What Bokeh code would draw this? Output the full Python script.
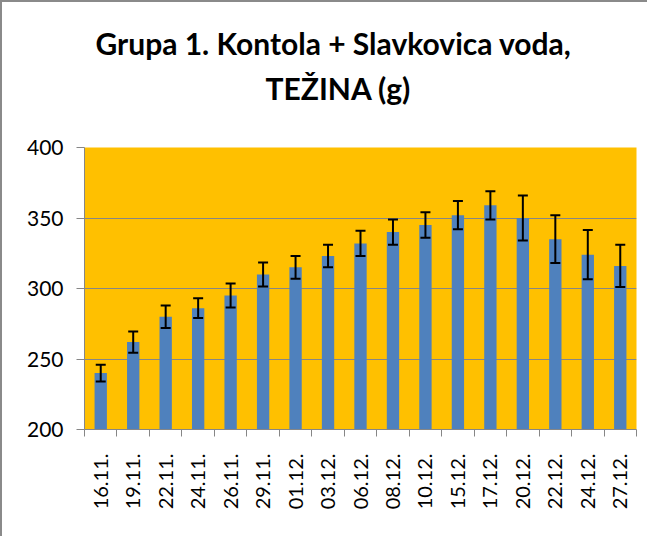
import math
from bokeh.plotting import figure
from bokeh.models import ColumnDataSource, Whisker, TeeHead, FixedTicker, Title, Range1d
from bokeh.embed import file_html
from bokeh.resources import INLINE

categories = ["16.11.", "19.11.", "22.11.", "24.11.", "26.11.", "29.11.", "01.12.", "03.12.",
              "06.12.", "08.12.", "10.12.", "15.12.", "17.12.", "20.12.", "22.12.", "24.12.", "27.12."]
weights = [240, 262, 280, 286, 295, 310, 315, 323, 332, 340, 345, 352, 359, 350, 335, 324, 316]
errors = [6, 7.5, 8, 7, 8.5, 8.5, 8, 8, 9, 9, 9, 10, 10, 16, 17, 17.5, 15]
y_ticks = [200, 250, 300, 350, 400]
title_lines = ["Grupa 1. Kontola + Slavkovica voda,", "TEŽINA  (g)"]

idx = list(range(len(categories)))
src = ColumnDataSource(dict(
    x=idx,
    top=weights,
    upper=[w + e for w, e in zip(weights, errors)],
    lower=[w - e for w, e in zip(weights, errors)],
))

GRAY = "#868686"
FONT = "Lato"

p = figure(width=647, height=536, output_backend="svg", toolbar_location=None, title=None,
           x_range=Range1d(-0.5, len(categories) - 0.5), y_range=Range1d(200, 400),
           min_border_left=82, min_border_right=13, min_border_top=145, min_border_bottom=109,
           styles={"border-top": "2px solid #8a8a8a", "border-left": "2px solid #8a8a8a"})
p.background_fill_color = "#FFC000"
p.border_fill_color = "white"
p.outline_line_color = None

p.vbar(x="x", top="top", bottom=200, width=0.38, source=src,
       fill_color="#4F81BD", line_color=None)

wh = Whisker(source=src, base="x", upper="upper", lower="lower", level="overlay",
             line_color="black", line_width=2,
             upper_head=TeeHead(size=10, line_color="black", line_width=2),
             lower_head=TeeHead(size=10, line_color="black", line_width=2))
p.add_layout(wh)

# x axis
p.xaxis.ticker = FixedTicker(ticks=idx, minor_ticks=[i - 0.5 for i in range(len(categories) + 1)])
p.xaxis.major_label_overrides = {i: c for i, c in zip(idx, categories)}
p.xaxis.major_label_orientation = math.pi / 2
p.xaxis.major_tick_out = 0
p.xaxis.major_tick_in = 0
p.xaxis.minor_tick_out = 7
p.xaxis.minor_tick_in = 0
p.xaxis.minor_tick_line_color = GRAY
p.xaxis.axis_line_color = GRAY
p.xaxis.major_label_standoff = 17
p.xaxis.major_label_text_font = FONT
p.xaxis.major_label_text_font_size = "20px"
p.xaxis.major_label_text_color = "black"

# y axis
p.yaxis.ticker = FixedTicker(ticks=y_ticks)
p.yaxis.major_tick_out = 8
p.yaxis.major_tick_in = 0
p.yaxis.minor_tick_line_color = None
p.yaxis.major_tick_line_color = GRAY
p.yaxis.axis_line_color = GRAY
p.yaxis.major_label_standoff = 13
p.yaxis.major_label_text_font = FONT
p.yaxis.major_label_text_font_size = "21px"
p.yaxis.major_label_text_color = "black"

p.xgrid.grid_line_color = None
p.ygrid.grid_line_color = GRAY
p.ygrid.grid_line_width = 1

# spacer between plot and title
p.add_layout(Title(text=" ", text_font_size="10px", standoff=25), "above")
# title (two lines; later-added line sits further from the plot)
for txt, so, off in zip(reversed(title_lines), [7, 7], [181, 11]):
    p.add_layout(Title(text=txt, align="left", offset=off, standoff=so,
                       text_font=FONT, text_font_style="bold",
                       text_font_size="30px", text_color="black"), "above")

open("out.html", "w").write(file_html(p, INLINE))
